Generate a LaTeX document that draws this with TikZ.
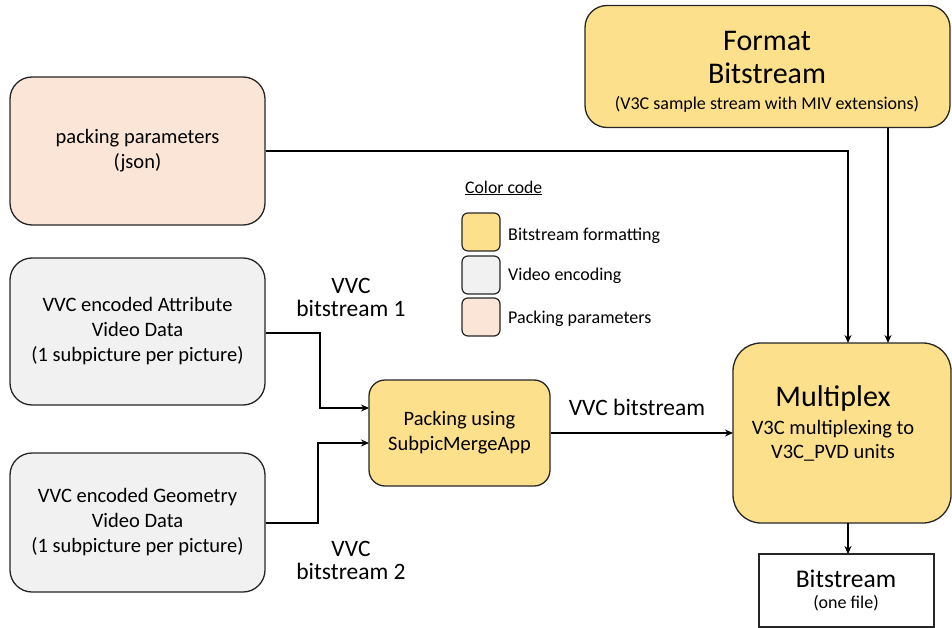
\documentclass[tikz,border=0pt]{standalone}
\usepackage{fontspec}
\setmainfont{Carlito}
\usetikzlibrary{arrows.meta}
\definecolor{fmtyellow}{HTML}{FDE08C}
\definecolor{encgray}{HTML}{F1F1F1}
\definecolor{packpeach}{HTML}{FBE5D6}
\tikzset{
  box/.style={draw=black!85, line width=1.3pt, rounded corners=22pt, align=center, inner sep=0pt},
  yel/.style={box, fill=fmtyellow},
  gry/.style={box, fill=encgray},
  pch/.style={box, fill=packpeach},
  swatch/.style={draw=black!85, line width=1.2pt, rounded corners=6pt, minimum width=38pt, minimum height=38pt, inner sep=0pt},
  conn/.style={line width=1.4pt, -{Stealth[length=8pt,width=7pt]}},
  lbl/.style={font=\fontsize{23.5}{23}\selectfont, align=center, inner sep=0pt},
  leg/.style={font=\fontsize{18}{20}\selectfont, anchor=west, inner sep=0pt},
  boxtxt/.style={font=\fontsize{20.5}{25}\selectfont},
}
\begin{document}
\begin{tikzpicture}[x=1pt,y=-1pt]
\useasboundingbox (0,0) rectangle (952,628);
% boxes
\node[yel, minimum width=365pt, minimum height=122pt] (fmt) at (767.5,66.5) {};
\node[font=\fontsize{30}{33}\selectfont, align=center] at (767,57) {Format\\Bitstream};
\node[font=\fontsize{18}{20}\selectfont] at (767,104) {(V3C sample stream with MIV extensions)};

\node[pch, minimum width=255pt, minimum height=148pt, boxtxt] (pp) at (137.5,151) {packing parameters\\(json)};

\node[gry, minimum width=255pt, minimum height=147pt, boxtxt] (att) at (137.5,331.5) {VVC encoded Attribute\\Video Data\\(1 subpicture per picture)};
\node[gry, minimum width=255pt, minimum height=139pt, boxtxt] (geo) at (137.5,522.5) {VVC encoded Geometry\\Video Data\\(1 subpicture per picture)};

\node[yel, rounded corners=16pt, minimum width=181pt, minimum height=106pt, boxtxt] (pack) at (459.5,433) {Packing using\\SubpicMergeApp};

\node[yel, rounded corners=28pt, minimum width=218pt, minimum height=180pt] (mux) at (842,433) {};
\node[font=\fontsize{30}{30}\selectfont] at (833,398) {Multiplex};
\node[font=\fontsize{20.5}{24}\selectfont, align=center] at (833,441) {V3C multiplexing to\\V3C\_PVD units};

\node[draw=black!85, line width=1.3pt, fill=white, minimum width=175pt, minimum height=73pt, inner sep=0pt] (bs) at (846.5,590.5) {};
\node[font=\fontsize{25.5}{24}\selectfont] at (846,579) {Bitstream};
\node[font=\fontsize{18}{16}\selectfont] at (846,603) {(one file)};

% legend
\node[font=\fontsize{17.7}{20}\selectfont, anchor=west, inner sep=0pt] (cc) at (465,188) {\underline{Color code}};
\node[swatch, fill=fmtyellow] (s1) at (481,232) {};
\node[swatch, fill=encgray] (s2) at (481,275) {};
\node[swatch, fill=packpeach] (s3) at (481,317) {};
\node[leg] (l1) at (508,236) {Bitstream formatting};
\node[leg] (l2) at (508,276) {Video encoding};
\node[leg] (l3) at (508,319) {Packing parameters};

% labels
\node[lbl] (lb1) at (351,297) {VVC\\bitstream 1};
\node[lbl] (lb2) at (351,560) {VVC\\bitstream 2};
\node[lbl] (lb3) at (637,407) {VVC bitstream};

% connectors
\coordinate (c1) at (848,151);
\draw[conn] (pp.east |- 0,151) -- (c1) -- (848,343);
\draw[conn] (888,128) -- (888,343);
\draw[conn] (att.east |- 0,333) -- (320,333) -- (320,408) -- (369,408);
\draw[conn] (geo.east |- 0,523) -- (318,523) -- (318,443) -- (369,443);
\draw[conn] (pack.east |- 0,433) -- (733,433);
\draw[conn] (848,523) -- (848,554);
\end{tikzpicture}
\end{document}
